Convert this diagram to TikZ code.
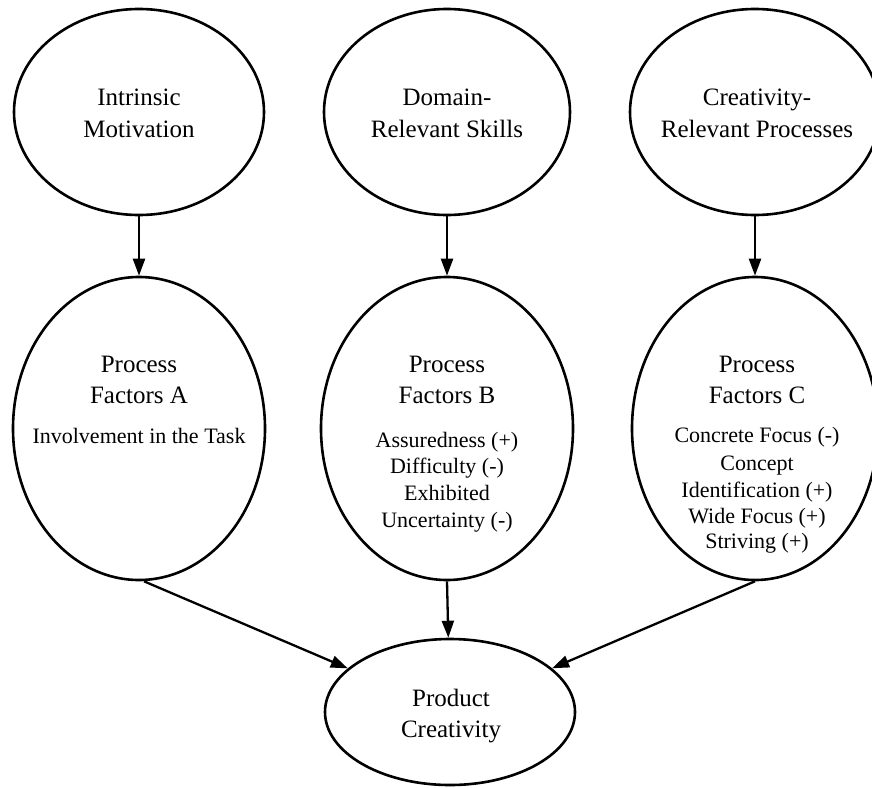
\documentclass[tikz,border=0pt]{standalone}
\usepackage{fontspec}
\setmainfont{Liberation Serif}
\usetikzlibrary{shapes.geometric,arrows.meta}
\begin{document}
\begin{tikzpicture}[x=1pt,y=-1pt,
  oval/.style={draw,ellipse,line width=2.6pt,inner sep=0pt},
  topoval/.style={oval,minimum width=250pt,minimum height=206pt},
  midoval/.style={oval,minimum width=252pt,minimum height=303pt},
  head/.style={anchor=base,inner sep=0pt,font=\fontsize{25}{32}\selectfont},
  item/.style={anchor=base,inner sep=0pt,font=\fontsize{22}{26}\selectfont},
  arr/.style={line width=2.3pt,-{Triangle[length=17pt,width=12pt]}}]
\useasboundingbox (0,0) rectangle (872,787);
\clip (0,0) rectangle (872,787);
% top row
\node[topoval] (T1) at (139,112) {};
\node[topoval,minimum width=246pt] (T2) at (447,112) {};
\node[topoval] (T3) at (755,112) {};
\node[head] (t11) at (139,105) {Intrinsic};
\node[head] (t12) at (139,137) {Motivation};
\node[head] (t21) at (447,105) {Domain-};
\node[head] (t22) at (447,137) {Relevant Skills};
\node[head] (t31) at (757,105) {Creativity-};
\node[head] (t32) at (757,137) {Relevant Processes};
% middle row
\node[midoval] (A) at (139,428.5) {};
\node[midoval] (B) at (447,428.5) {};
\node[midoval,minimum width=246pt] (C) at (755,428.5) {};
\node[head] (a1) at (139,372) {Process};
\node[head] (a2) at (139,403) {Factors A};
\node[item] (a3) at (139,443) {Involvement in the Task};
\node[head] (b1) at (447,372) {Process};
\node[head] (b2) at (447,403) {Factors B};
\node[item] (b3) at (447,447) {Assuredness (+)};
\node[item] (b4) at (447,473) {Difficulty (-)};
\node[item] (b5) at (447,500) {Exhibited};
\node[item] (b6) at (447,527) {Uncertainty (-)};
\node[head] (c1) at (757,372) {Process};
\node[head] (c2) at (757,403) {Factors C};
\node[item] (c3) at (757,442) {Concrete Focus (-)};
\node[item] (c4) at (757,470) {Concept};
\node[item] (c5) at (757,497) {Identification (+)};
\node[item] (c6) at (757,523) {Wide Focus (+)};
\node[item] (c7) at (757,548) {Striving (+)};
% bottom
\node[oval,minimum width=250pt,minimum height=146pt] (P) at (450,712) {};
\node[head] (p1) at (451,706) {Product};
\node[head] (p2) at (451,737) {Creativity};
% connectors
\draw[arr] (T1) -- (A);
\draw[arr] (T2) -- (B);
\draw[arr] (T3) -- (C);
\draw[arr] ([xshift=5pt]A.south) -- (P);
\draw[arr] (B.south) -- (P);
\draw[arr] (C.south) -- (P);
\end{tikzpicture}
\end{document}
